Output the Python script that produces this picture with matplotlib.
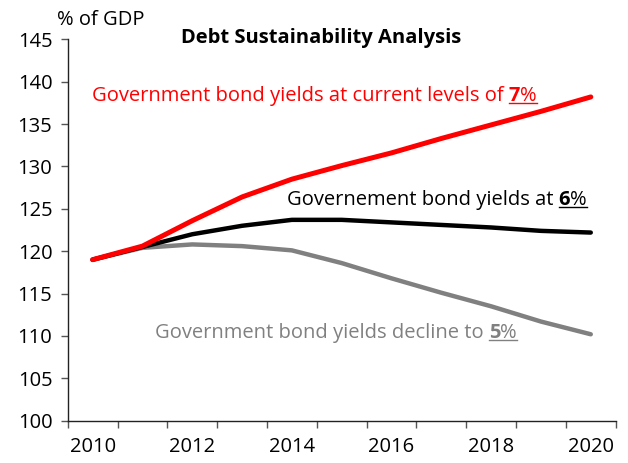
import matplotlib
matplotlib.use("Agg")
import matplotlib.pyplot as plt
from matplotlib.lines import Line2D

plt.rcParams['font.family'] = ['Open Sans', 'DejaVu Sans']

YEARS = [2010, 2011, 2012, 2013, 2014, 2015, 2016, 2017, 2018, 2019, 2020]
# debt ratio, % of GDP, under the three yield scenarios
DEBT_7 = [119.0, 120.6, 123.6, 126.4, 128.5, 130.1, 131.6, 133.3, 134.9, 136.5, 138.2]
DEBT_6 = [119.0, 120.5, 122.0, 123.0, 123.7, 123.7, 123.4, 123.1, 122.8, 122.4, 122.2]
DEBT_5 = [119.0, 120.4, 120.8, 120.6, 120.1, 118.6, 116.8, 115.1, 113.5, 111.7, 110.2]
YEAR_LABELS = ['2010', '2012', '2014', '2016', '2018', '2020']

FS = 14.5

fig = plt.figure(figsize=(6.28, 4.63), dpi=100)
ax = fig.add_axes([0.1078, 0.0913, 0.8726, 0.8238])

ax.plot(YEARS, DEBT_5, color='#808080', lw=3.2, solid_capstyle='round', zorder=2)
ax.plot(YEARS, DEBT_6, color='black', lw=3.2, solid_capstyle='round', zorder=3)
ax.plot(YEARS, DEBT_7, color='#ff0000', lw=3.6, solid_capstyle='round', zorder=4)

ax.set_xlim(YEARS[0] - 0.5, YEARS[-1] + 0.5)
ax.set_ylim(100, 145)
ax.set_yticks(range(100, 146, 5))
ax.set_xticks([int(y) for y in YEAR_LABELS])
ax.set_xticklabels(YEAR_LABELS)
ax.set_xticks([y - 0.5 for y in YEARS] + [YEARS[-1] + 0.5], minor=True)

for s in ['top', 'right']:
    ax.spines[s].set_visible(False)
for s in ['left', 'bottom']:
    ax.spines[s].set_linewidth(1.0)
    ax.spines[s].set_color('#222222')

ax.tick_params(axis='y', direction='out', length=5, width=1, color='#555555',
               labelsize=FS, pad=6)
ax.tick_params(axis='x', which='major', length=0, labelsize=FS, pad=12)
ax.tick_params(axis='x', which='minor', direction='out', length=5, width=1,
               color='#555555')

fig.text(0.091, 0.957, '% of GDP', fontsize=FS, ha='left', va='center')
fig.text(0.512, 0.918, 'Debt Sustainability Analysis', fontsize=FS,
         fontweight='bold', ha='center', va='center')


def scenario_label(x, y, text, num, color):
    """Label with a bold, underlined rate at its end."""
    t = ax.text(x, y, text, fontsize=FS, color=color, ha='left',
                va='baseline', transform=fig.transFigure)
    n = ax.annotate(num, xy=(1, 0), xycoords=t, fontsize=FS, color=color,
                    fontweight='bold', ha='left', va='bottom')
    p = ax.annotate('%', xy=(1, 0), xycoords=n, fontsize=FS, color=color,
                    ha='left', va='bottom')
    return t, n, p


labels = [
    scenario_label(0.146, 0.782, 'Government bond yields at current levels of ', '7', '#ff0000'),
    scenario_label(0.457, 0.557, 'Governement bond yields at ', '6', 'black'),
    scenario_label(0.247, 0.269, 'Government bond yields decline to ', '5', '#808080'),
]

fig.canvas.draw()
r = fig.canvas.get_renderer()
for t, n, p in labels:
    bn = n.get_window_extent(r)
    bp = p.get_window_extent(r)
    bt = t.get_window_extent(r)
    ybase = bt.y0 + 3.0
    fig.add_artist(Line2D([bn.x0 / 628, bp.x1 / 628],
                          [ybase / 463, ybase / 463],
                          color=t.get_color(), lw=1.0))

fig.savefig('out.png', dpi=100)
